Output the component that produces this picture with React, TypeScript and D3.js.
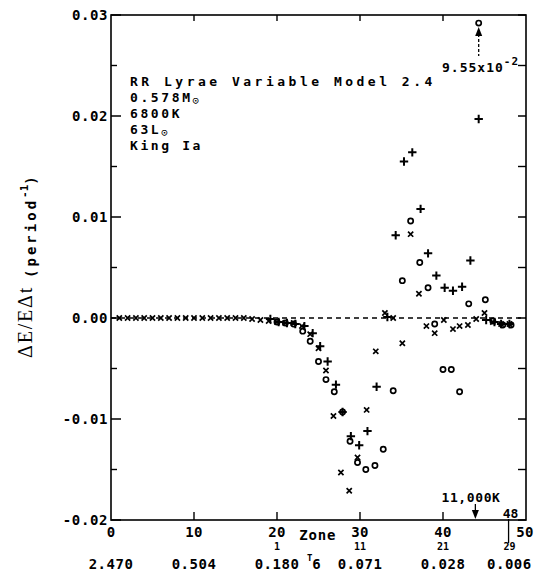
import React, { useRef, useEffect } from "react";
import * as d3 from "d3";

// values: zone number vs dE/(E dt), three symbol series
const crossZones = [1, 2, 3, 4, 5, 6, 7, 8, 9, 10, 11, 12, 13, 14, 15, 16, 17, 18, 19, 20, 21, 22, 23, 24, 25, 25.9, 26.8, 27.7, 28.7, 29.7, 30.8, 31.9, 33.0, 34.0, 35.1, 36.1, 37.1, 38.0, 39.0, 40.1, 41.2, 42.0, 43.0, 44.0, 45.0, 46.0, 47.0, 48.0];
const crossValues = [0, 0, 0, 0, 0, 0, 0, 0, 0, 0, 0, 0, 0, 0, 0, 0, -0.0001, -0.0002, -0.0003, -0.0004, -0.0005, -0.0005, -0.0008, -0.0016, -0.003, -0.0052, -0.0097, -0.0153, -0.0171, -0.0138, -0.0091, -0.0033, 0.0005, 0.0, -0.0025, 0.0083, 0.0024, -0.0008, -0.0015, -0.0002, -0.0011, -0.0008, -0.0007, -0.0001, 0.0005, -0.0004, -0.0006, -0.0006];

const plusZones = [19.2, 20.2, 21.2, 22.2, 23.3, 24.3, 25.2, 26.1, 27.1, 27.9, 28.9, 29.9, 30.9, 32.0, 33.3, 34.3, 35.3, 36.3, 37.3, 38.2, 39.2, 40.2, 41.2, 42.3, 43.3, 44.3, 45.2, 46.2, 47.0, 48.0];
const plusValues = [-0.0001, -0.0004, -0.0005, -0.0006, -0.0008, -0.0015, -0.0028, -0.0043, -0.0066, -0.0093, -0.0117, -0.0126, -0.0112, -0.0068, 0.0001, 0.0082, 0.0155, 0.0164, 0.0108, 0.0064, 0.0042, 0.003, 0.0027, 0.0031, 0.0057, 0.0197, -0.0002, -0.0004, -0.0006, -0.0006];

const circleZones = [20.0, 21.0, 22.0, 23.1, 24.0, 25.0, 25.9, 26.9, 27.9, 28.8, 29.7, 30.7, 31.8, 32.8, 34.0, 35.1, 36.1, 37.2, 38.2, 39.0, 40.0, 41.0, 42.0, 43.1, 44.3, 45.1, 46.0, 47.2, 48.2];
const circleValues = [-0.0004, -0.0005, -0.0006, -0.0013, -0.0023, -0.0043, -0.0061, -0.0073, -0.0093, -0.0122, -0.0143, -0.015, -0.0146, -0.013, -0.0072, 0.0037, 0.0096, 0.0055, 0.003, -0.0006, -0.0051, -0.0051, -0.0073, 0.0014, 0.0955, 0.0018, -0.0003, -0.0007, -0.0007];

// axis ticks and the extra label rows under the zone axis
const yMajor = [-0.02, -0.01, 0, 0.01, 0.02, 0.03];
const yMinor = [-0.015, -0.005, 0.005, 0.015, 0.025];
const zoneTicks = [0, 10, 20, 30, 40, 50];
const shellZones = [20, 30, 40, 48];
const shellLabels = ["1", "11", "21", "29"];
const t6Zones = [0, 10, 20, 30, 40, 48];
const t6Labels = ["2.470", "0.504", "0.180", "0.071", "0.028", "0.006"];
const infoLines = ["RR Lyrae Variable Model 2.4", "0.578M", "6800K", "63L", "King Ia"];

const MONO = "'DejaVu Sans Mono', monospace";

const App = () => {
    const svgRef = useRef(null);

    useEffect(() => {
        const svg = d3.select(svgRef.current);
        svg.selectAll("*").remove();

        const left = 111, right = 526, top = 15, bottom = 520;
        const x = d3.scaleLinear().domain([0, 50]).range([left, right]);
        const y = d3.scaleLinear().domain([-0.02, 0.03]).range([bottom, top]);

        const label = (sel, size, spacing) => sel
            .style("font-family", MONO).style("font-weight", "bold")
            .style("font-size", size + "px").style("letter-spacing", spacing + "px");

        // frame
        svg.append("rect")
            .attr("x", left).attr("y", top)
            .attr("width", right - left).attr("height", bottom - top)
            .attr("fill", "none").attr("stroke", "#000").attr("stroke-width", 1.6);

        // value axis ticks (inward on both sides) + labels
        yMajor.forEach(v => {
            svg.append("line").attr("x1", left).attr("x2", left + 10)
                .attr("y1", y(v)).attr("y2", y(v)).attr("stroke", "#000").attr("stroke-width", 1.5);
            svg.append("line").attr("x1", right).attr("x2", right - 8)
                .attr("y1", y(v)).attr("y2", y(v)).attr("stroke", "#000").attr("stroke-width", 1.5);
            label(svg.append("text"), 14, 0.6)
                .attr("x", left - 3).attr("y", y(v) + 5)
                .attr("text-anchor", "end")
                .text(v.toFixed(2));
        });
        yMinor.forEach(v => {
            svg.append("line").attr("x1", left).attr("x2", left + 6)
                .attr("y1", y(v)).attr("y2", y(v)).attr("stroke", "#000").attr("stroke-width", 1.4);
            svg.append("line").attr("x1", right).attr("x2", right - 8)
                .attr("y1", y(v)).attr("y2", y(v)).attr("stroke", "#000").attr("stroke-width", 1.4);
        });

        // zone axis ticks
        zoneTicks.slice(1, -1).forEach(z => {
            svg.append("line").attr("x1", x(z)).attr("x2", x(z))
                .attr("y1", bottom).attr("y2", bottom - 8).attr("stroke", "#000").attr("stroke-width", 1.4);
            svg.append("line").attr("x1", x(z)).attr("x2", x(z))
                .attr("y1", top).attr("y2", top + 6).attr("stroke", "#000").attr("stroke-width", 1.4);
        });
        zoneTicks.forEach(z => {
            label(svg.append("text"), 14, 0.3)
                .attr("x", x(z) - (z === 50 ? 1 : 0)).attr("y", 537)
                .attr("text-anchor", "middle")
                .text(z);
        });
        label(svg.append("text"), 14, 0.8).attr("x", x(24.9)).attr("y", 540).attr("text-anchor", "middle")
            .text("Zone");
        shellZones.forEach((z, i) => {
            label(svg.append("text"), 10, 0).attr("x", x(z)).attr("y", 550).attr("text-anchor", "middle")
                .text(shellLabels[i]);
        });
        t6Zones.forEach((z, i) => {
            label(svg.append("text"), 14, 0.5).attr("x", x(z)).attr("y", 569).attr("text-anchor", "middle")
                .text(t6Labels[i]);
        });
        const t6 = label(svg.append("text"), 14, 0).attr("x", x(23.6)).attr("y", 569);
        t6.append("tspan").attr("dy", -8).style("font-size", "9px").text("T");
        t6.append("tspan").attr("dy", 8).text("6");

        // zero line
        svg.append("line").attr("x1", left).attr("x2", right)
            .attr("y1", y(0)).attr("y2", y(0))
            .attr("stroke", "#000").attr("stroke-width", 1.3).attr("stroke-dasharray", "5,4");

        // symbols
        const yClip = v => y(Math.min(v, 0.0292));
        const g = svg.append("g").attr("stroke", "#000").attr("fill", "none");
        crossZones.forEach((z, i) => {
            const cx = x(z), cy = yClip(crossValues[i]), s = 2.6;
            g.append("path").attr("d", `M${cx - s},${cy - s}L${cx + s},${cy + s}M${cx - s},${cy + s}L${cx + s},${cy - s}`)
                .attr("stroke-width", 1.7);
        });
        plusZones.forEach((z, i) => {
            const cx = x(z), cy = yClip(plusValues[i]), s = 4.2;
            g.append("path").attr("d", `M${cx - s},${cy}L${cx + s},${cy}M${cx},${cy - s}L${cx},${cy + s}`)
                .attr("stroke-width", 2);
        });
        circleZones.forEach((z, i) => {
            g.append("circle").attr("cx", x(z)).attr("cy", yClip(circleValues[i])).attr("r", 2.6)
                .attr("stroke-width", 1.7);
        });

        // off-scale point arrow: 9.55x10^-2
        const ax = x(44.3);
        svg.append("line").attr("x1", ax).attr("x2", ax).attr("y1", 34).attr("y2", 56)
            .attr("stroke", "#000").attr("stroke-width", 1.3).attr("stroke-dasharray", "3,2");
        svg.append("path").attr("d", `M${ax},27L${ax - 3.5},36L${ax + 3.5},36Z`).attr("fill", "#000");
        const off = label(svg.append("text"), 13, 1).attr("x", 442).attr("y", 72);
        off.append("tspan").text("9.55x10");
        off.append("tspan").attr("dy", -7).style("font-size", "11px").text("-2");

        // 11,000K marker
        const kx = x(43.9);
        label(svg.append("text"), 13, 0.6).attr("x", 471).attr("y", 502).attr("text-anchor", "middle")
            .text("11,000K");
        svg.append("line").attr("x1", kx).attr("x2", kx).attr("y1", 504).attr("y2", 512)
            .attr("stroke", "#000").attr("stroke-width", 1.3);
        svg.append("path").attr("d", `M${kx},519L${kx - 3.5},510L${kx + 3.5},510Z`).attr("fill", "#000");

        // zone 48 marker
        const zx = x(47.9);
        label(svg.append("text"), 13, 0).attr("x", zx + 2).attr("y", 518).attr("text-anchor", "middle")
            .text("48");
        svg.append("line").attr("x1", zx).attr("x2", zx).attr("y1", 519).attr("y2", 543)
            .attr("stroke", "#000").attr("stroke-width", 1.3);

        // model info block
        const lineY = [86, 102, 118, 134, 150];
        infoLines.forEach((t, i) => {
            const txt = label(svg.append("text"), 13, i === 0 ? 3.5 : 2.6).attr("x", 130).attr("y", lineY[i]);
            txt.append("tspan").text(t);
            if (i === 1 || i === 3) {
                txt.append("tspan").attr("dy", 2).style("font-size", "11px").style("font-weight", "normal").text("\u2299");
            }
        });

        // y axis title
        const yt = svg.append("text")
            .attr("transform", "translate(32,358) rotate(-90)");
        yt.append("tspan").style("font-family", "'Liberation Serif', serif").style("font-size", "20px")
            .style("letter-spacing", "1.8px").text("\u0394E/E\u0394t");
        const mono = s => s.style("font-family", MONO).style("font-weight", "bold");
        mono(yt.append("tspan")).attr("dx", 8).attr("dy", 4).style("font-size", "14px")
            .style("letter-spacing", "3px").text("(period");
        mono(yt.append("tspan")).attr("dy", -8).style("font-size", "11px").text("-1");
        mono(yt.append("tspan")).attr("dy", 8).style("font-size", "14px").text(")");
    }, []);

    return (
        <svg ref={svgRef} width={534} height={579}
            style={{ position: "absolute", left: 0, top: 0, background: "#fff" }}></svg>
    );
};

export default App;
